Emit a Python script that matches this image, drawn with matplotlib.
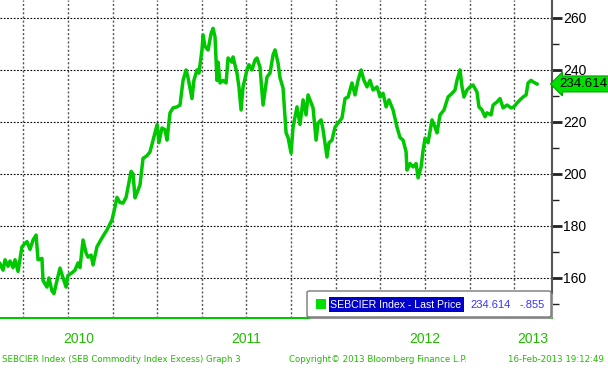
import numpy as np
import matplotlib
matplotlib.use("Agg")
import matplotlib.pyplot as plt
from matplotlib.patches import FancyBboxPatch, Rectangle
from matplotlib.ticker import MultipleLocator

# SEBCIER index (decimal year, index level)
years = [2010.120, 2010.137, 2010.148, 2010.165, 2010.176, 2010.193, 2010.204, 2010.221,
         2010.243, 2010.271, 2010.288, 2010.305, 2010.322, 2010.333, 2010.355, 2010.361,
         2010.383, 2010.394, 2010.411, 2010.422, 2010.439, 2010.456, 2010.473, 2010.490,
         2010.501, 2010.523, 2010.540, 2010.557, 2010.568, 2010.585, 2010.602, 2010.613,
         2010.630, 2010.641, 2010.663, 2010.691, 2010.719, 2010.747, 2010.764, 2010.775,
         2010.792, 2010.809, 2010.826, 2010.837, 2010.854, 2010.865, 2010.876, 2010.887,
         2010.904, 2010.921, 2010.943, 2010.960, 2010.977, 2010.988, 2011.000, 2011.010,
         2011.027, 2011.044, 2011.055, 2011.072, 2011.089, 2011.111, 2011.128, 2011.145,
         2011.162, 2011.173, 2011.195, 2011.206, 2011.223, 2011.234, 2011.251, 2011.257,
         2011.268, 2011.285, 2011.302, 2011.313, 2011.324, 2011.335, 2011.341, 2011.352,
         2011.369, 2011.386, 2011.397, 2011.419, 2011.425, 2011.447, 2011.458, 2011.470,
         2011.481, 2011.503, 2011.514, 2011.531, 2011.548, 2011.559, 2011.576, 2011.593,
         2011.615, 2011.632, 2011.649, 2011.660, 2011.677, 2011.688, 2011.705, 2011.722,
         2011.733, 2011.750, 2011.761, 2011.783, 2011.800, 2011.817, 2011.834, 2011.845,
         2011.867, 2011.873, 2011.890, 2011.901, 2011.918, 2011.929, 2011.951, 2011.962,
         2011.979, 2011.996, 2012.013, 2012.035, 2012.052, 2012.069, 2012.091, 2012.108,
         2012.125, 2012.142, 2012.158, 2012.175, 2012.192, 2012.209, 2012.231, 2012.248,
         2012.265, 2012.282, 2012.298, 2012.321, 2012.343, 2012.360, 2012.377, 2012.394,
         2012.399, 2012.416, 2012.433, 2012.450, 2012.461, 2012.478, 2012.489, 2012.500,
         2012.517, 2012.539, 2012.556, 2012.567, 2012.584, 2012.606, 2012.629, 2012.651,
         2012.668, 2012.679, 2012.696, 2012.707, 2012.718, 2012.735, 2012.752, 2012.769,
         2012.791, 2012.802, 2012.819, 2012.836, 2012.847, 2012.870, 2012.881, 2012.903,
         2012.920, 2012.937, 2012.959, 2012.982, 2012.998, 2013.015, 2013.032, 2013.049,
         2013.066, 2013.077, 2013.094, 2013.105, 2013.127]
prices = [165.5, 163.0, 167.0, 164.5, 166.5, 164.0, 167.0, 162.5,
          172.0, 174.0, 171.0, 174.6, 176.5, 167.0, 167.5, 159.0,
          156.5, 160.0, 155.0, 154.0, 159.0, 163.8, 160.0, 156.5,
          161.0, 162.0, 163.0, 165.8, 164.0, 174.6, 169.6, 168.0,
          168.8, 165.0, 172.0, 175.4, 178.5, 182.3, 187.3, 191.0,
          189.0, 188.8, 191.0, 195.0, 201.0, 200.0, 190.8, 192.7,
          195.8, 206.0, 207.0, 208.5, 213.0, 216.0, 219.0, 212.0,
          217.7, 217.0, 213.0, 223.5, 225.4, 225.8, 226.5, 236.0,
          240.0, 237.0, 229.0, 236.0, 240.0, 238.8, 247.7, 253.5,
          249.0, 247.7, 254.0, 256.0, 252.7, 236.0, 243.0, 235.0,
          236.0, 235.0, 244.6, 243.0, 245.0, 238.8, 233.5, 224.6,
          233.5, 240.0, 242.0, 240.0, 243.8, 244.6, 241.0, 226.5,
          237.3, 238.8, 245.8, 247.7, 242.7, 237.0, 233.0, 215.8,
          214.0, 208.0, 218.0, 225.8, 219.0, 228.5, 222.7, 230.4,
          226.5, 225.4, 213.0, 219.6, 220.8, 217.0, 206.5, 212.0,
          213.0, 218.0, 219.6, 221.5, 229.0, 229.6, 235.0, 230.4,
          236.0, 240.0, 236.0, 233.5, 236.0, 232.3, 233.5, 229.6,
          231.0, 225.8, 228.5, 224.6, 218.0, 214.0, 213.0, 208.5,
          201.5, 204.0, 202.7, 204.0, 198.5, 202.7, 209.0, 213.8,
          212.0, 220.8, 218.0, 215.8, 222.7, 224.6, 229.6, 231.0,
          232.3, 236.0, 240.0, 233.5, 229.6, 232.3, 233.5, 234.2,
          231.5, 225.8, 224.6, 222.0, 223.5, 222.7, 226.5, 227.7,
          229.0, 225.4, 226.5, 225.4, 225.8, 227.3, 228.5, 229.6,
          230.4, 235.0, 236.0, 235.4, 234.614]

last_price = 234.614
change = -0.855
year_labels = ["2010", "2011", "2012", "2013"]
year_label_pos = [2010.56, 2011.5, 2012.5, 2013.105]

green = "#00c800"
footer_green = "#22bb00"

fig = plt.figure(figsize=(6.08, 3.68), dpi=100)
ax = fig.add_axes([0.0, 1 - 318 / 368, 552 / 608, 318 / 368])

ax.plot(years, prices, color=green, lw=2.5, solid_joinstyle="round", zorder=3)

ax.set_xlim(2010.12, 2013.211)
ax.set_ylim(144.6, 266.9)

# quarterly vertical grid, horizontal grid every 20
for q in np.arange(2010.25, 2013.01, 0.25):
    ax.axvline(q, color="#555555", lw=1.0, ls=(0, (1.5, 1.5)), zorder=1)
for lvl in range(160, 261, 20):
    ax.axhline(lvl, color="black", lw=0.8, ls=(0, (1.5, 1.5)), zorder=1)

ax.set_xticks([])
ax.yaxis.tick_right()
ax.yaxis.set_major_locator(MultipleLocator(20))
ax.yaxis.set_minor_locator(MultipleLocator(10))
ax.tick_params(axis="y", which="major", direction="out", length=7, width=2,
               color="#222222", pad=1)
ax.tick_params(axis="y", which="minor", direction="out", length=5, width=1,
               color="#222222")
for lab in ax.get_yticklabels():
    lab.set_family("Liberation Sans")
    lab.set_fontsize(10)

for side in ["top", "left"]:
    ax.spines[side].set_visible(False)
ax.spines["right"].set_color("#555555")
ax.spines["right"].set_linewidth(1.5)
ax.spines["bottom"].set_color(green)
ax.spines["bottom"].set_linewidth(1.5)

# last price tag on the axis
ax.text(1.0 + 7 / 552, last_price, f"{last_price:.3f}", transform=ax.get_yaxis_transform(),
        ha="left", va="center", fontsize=9.5, family="Liberation Sans", color="black",
        bbox=dict(boxstyle="larrow,pad=0.15", fc="#00e000", ec="#00a000", lw=0.8),
        zorder=5, clip_on=False)

# year labels under the axis
for lab, pos in zip(year_labels, year_label_pos):
    ax.text(pos, -0.065, lab, transform=ax.get_xaxis_transform(), ha="center", va="center",
            fontsize=10, family="Liberation Sans", color=footer_green)

# legend box
def fx(px):
    return px / 608

def fy(py):
    return 1 - py / 368

shadow = FancyBboxPatch((fx(309), fy(319)), fx(244), 26 / 368,
                        boxstyle="round,pad=0,rounding_size=0.004",
                        transform=fig.transFigure, fc="#999999", ec="none", zorder=6)
box = FancyBboxPatch((fx(307), fy(317)), fx(244), 26 / 368,
                     boxstyle="round,pad=0,rounding_size=0.004",
                     transform=fig.transFigure, fc="white", ec="#777777", lw=1, zorder=7)
fig.patches.extend([shadow, box])
fig.patches.append(Rectangle((fx(316), fy(309)), fx(10), 10 / 368, transform=fig.transFigure,
                             fc="#00e000", ec="none", zorder=8))
fig.patches.append(Rectangle((fx(329), fy(312)), fx(135), 15 / 368, transform=fig.transFigure,
                             fc="#0000cc", ec="none", zorder=8))
fig.text(fx(330), fy(304.5), "SEBCIER Index - Last Price", ha="left", va="center",
         fontsize=7.6, family="Liberation Sans", color="white", zorder=9)
fig.text(fx(470), fy(304.5), f"{last_price:.3f}", ha="left", va="center",
         fontsize=8, family="Liberation Sans", color="#3333ff", zorder=9)
fig.text(fx(545), fy(304.5), f"{change:.3f}".replace("0.", "."), ha="right", va="center",
         fontsize=8, family="Liberation Sans", color="#3333ff", zorder=9)

# footer
fig.text(fx(2), fy(359), "SEBCIER Index (SEB Commodity Index Excess) Graph 3", ha="left",
         va="center", fontsize=6.2, family="DejaVu Sans", color=footer_green)
fig.text(fx(289), fy(359), "Copyright\u00a9 2013 Bloomberg Finance L.P.", ha="left",
         va="center", fontsize=6.2, family="DejaVu Sans", color=footer_green)
fig.text(fx(604), fy(359), "16-Feb-2013 19:12:49", ha="right",
         va="center", fontsize=6.2, family="DejaVu Sans", color=footer_green)

fig.savefig("out.png", dpi=100)
